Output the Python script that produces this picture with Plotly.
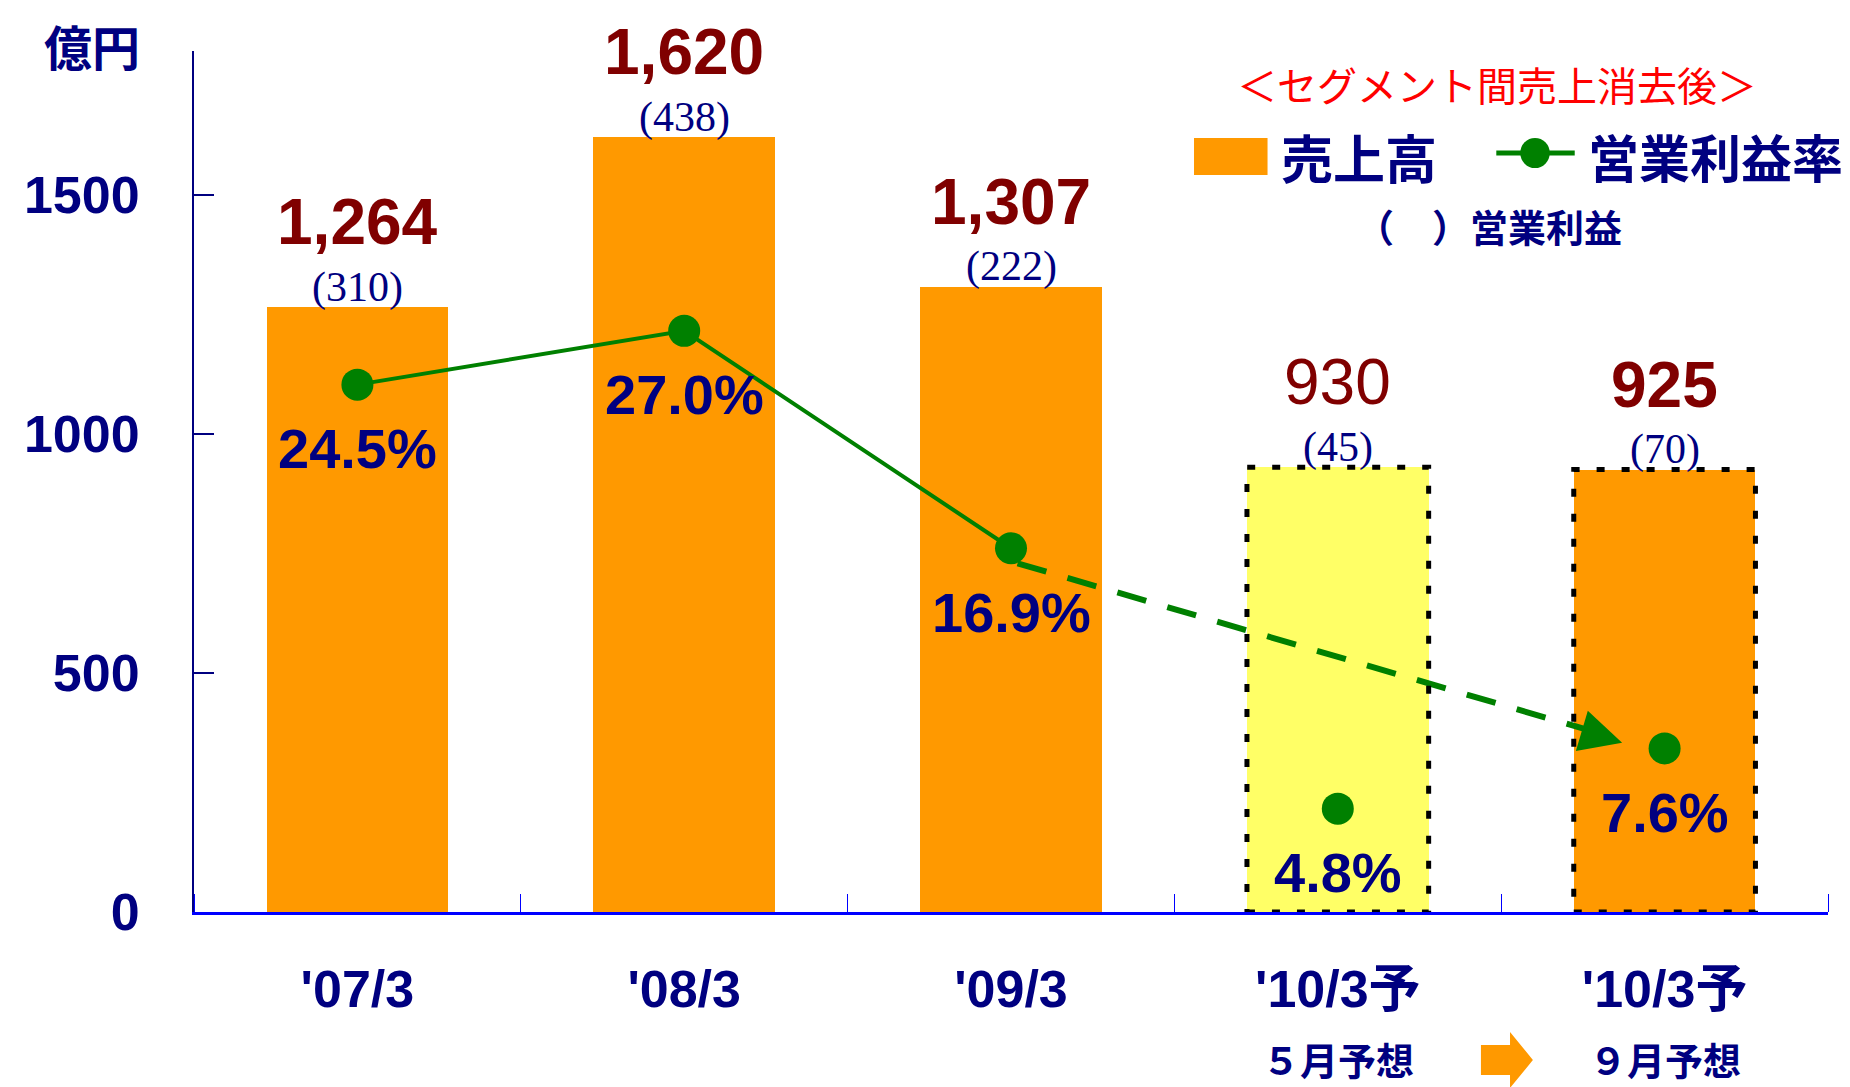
import plotly.graph_objects as go

# data
periods = ["'07/3", "'08/3", "'09/3", "'10/3予", "'10/3予"]
sales = [1264, 1620, 1307, 930, 925]          # 売上高 (億円)
op_profit = [310, 438, 222, 45, 70]            # 営業利益 (億円)
op_margin = [24.5, 27.0, 16.9, 4.8, 7.6]       # 営業利益率 (%)
forecast = [False, False, False, True, True]
sales_bold = [True, True, True, False, True]
y_ticks = [0, 500, 1000, 1500]

ORANGE = '#FF9900'
YELLOW = '#FFFF66'
GREEN = '#008000'
NAVY = '#000080'
DARKRED = '#800000'
SANS = "Arial, 'Liberation Sans', 'Noto Sans CJK JP'"
JP = "'Noto Sans CJK JP', Arial"

x = list(range(len(periods)))
bar_w = 0.556
bar_colors = [YELLOW if (f and i == 3) else ORANGE for i, f in enumerate(forecast)]

fig = go.Figure()

fig.add_trace(go.Bar(x=x, y=sales, width=bar_w, marker=dict(color=bar_colors, line=dict(width=0)),
                     showlegend=False, hoverinfo='skip'))

# actual margins: solid line
n_act = forecast.index(True)
fig.add_trace(go.Scatter(x=x[:n_act], y=op_margin[:n_act], yaxis='y2', mode='lines+markers',
                         line=dict(color=GREEN, width=4), marker=dict(size=32, color=GREEN),
                         showlegend=False, hoverinfo='skip'))
# forecast margins: markers only
fig.add_trace(go.Scatter(x=x[n_act:], y=op_margin[n_act:], yaxis='y2', mode='markers',
                         marker=dict(size=32, color=GREEN), showlegend=False, hoverinfo='skip'))

# revision arrow from last actual towards the september forecast
a0 = (x[n_act - 1] + 0.02, op_margin[n_act - 1] - 0.7)
a1 = (x[-1] - 0.13, op_margin[-1] + 0.26)
fig.add_trace(go.Scatter(x=[a0[0], a1[0] - 0.06], y=[a0[1], a1[1] + 0.4], yaxis='y2', mode='lines',
                         line=dict(color=GREEN, width=6, dash='30px,22px'),
                         showlegend=False, hoverinfo='skip'))

annotations = []
annotations.append(dict(x=a1[0], y=a1[1], xref='x', yref='y2', text='', showarrow=True,
                        arrowhead=2, arrowsize=1.4, arrowwidth=6, arrowcolor=GREEN,
                        ax=-27, ay=-8, axref='pixel', ayref='pixel'))

# bar value labels
for i, v in enumerate(sales):
    txt = f"{v:,}"
    if sales_bold[i]:
        txt = f"<b>{txt}</b>"
    annotations.append(dict(x=i, y=v, xref='x', yref='y', text=txt, showarrow=False,
                            xanchor='center', yanchor='middle',
                            yshift=85, font=dict(family=SANS, size=64, color=DARKRED)))
    annotations.append(dict(x=i, y=v, xref='x', yref='y', text=f"({op_profit[i]})", showarrow=False,
                            xanchor='center', yanchor='middle',
                            yshift=20, font=dict(family="'Liberation Serif', serif", size=42, color=NAVY)))

# margin labels
for i, m in enumerate(op_margin):
    annotations.append(dict(x=i, y=m, xref='x', yref='y2', text=f"<b>{m:.1f}%</b>", showarrow=False,
                            xanchor='center', yanchor='middle',
                            yshift=-64, font=dict(family=SANS, size=56, color=NAVY)))

# axis unit
annotations.append(dict(x=-0.0624, y=1.007, xref='paper', yref='paper', text='<b>億円</b>', showarrow=False,
                        xanchor='center', yanchor='middle',
                        font=dict(family=JP, size=48, color=NAVY)))

# legend (manual)
annotations.append(dict(x=0.7977, y=0.9617, xref='paper', yref='paper', text='＜セグメント間売上消去後＞',
                        xanchor='center', yanchor='middle',
                        showarrow=False, font=dict(family=JP, size=40, color='#FF0000')))
annotations.append(dict(x=0.664, y=0.878, xref='paper', yref='paper', text='<b>売上高</b>',
                        xanchor='left', yanchor='middle',
                        showarrow=False, font=dict(family=JP, size=52, color=NAVY)))
annotations.append(dict(x=0.852, y=0.878, xref='paper', yref='paper', text='<b>営業利益率</b>',
                        xanchor='left', yanchor='middle',
                        showarrow=False, font=dict(family=JP, size=51, color=NAVY)))
annotations.append(dict(x=0.710, y=0.797, xref='paper', yref='paper', text='<b>（　）営業利益</b>',
                        xanchor='left', yanchor='middle',
                        showarrow=False, font=dict(family=JP, size=38, color=NAVY)))

# forecast notes below axis
annotations.append(dict(x=3, y=-0.170, xref='x', yref='paper', text='<b>５月予想</b>', showarrow=False,
                        xanchor='center', yanchor='middle',
                        font=dict(family=JP, size=38, color=NAVY)))
annotations.append(dict(x=4, y=-0.170, xref='x', yref='paper', text='<b>９月予想</b>', showarrow=False,
                        xanchor='center', yanchor='middle',
                        font=dict(family=JP, size=38, color=NAVY)))

shapes = []
# dotted outlines for forecast bars
for i, f in enumerate(forecast):
    if f:
        shapes.append(dict(type='rect', xref='x', yref='y', x0=i - bar_w / 2, x1=i + bar_w / 2,
                           y0=0, y1=sales[i], line=dict(color='black', width=5, dash='8px,17px'),
                           fillcolor='rgba(0,0,0,0)', layer='above'))

# legend symbols
shapes.append(dict(type='rect', xref='paper', yref='paper', x0=0.612, x1=0.657, y0=0.856, y1=0.899,
                   fillcolor=ORANGE, line=dict(width=0)))
shapes.append(dict(type='line', xref='paper', yref='paper', x0=0.797, x1=0.845, y0=0.8815, y1=0.8815,
                   line=dict(color=GREEN, width=5)))
shapes.append(dict(type='circle', xref='paper', yref='paper', x0=0.8117, x1=0.8297, y0=0.864, y1=0.899,
                   fillcolor=GREEN, line=dict(width=0)))

# orange block arrow between 5月予想 and 9月予想
shapes.append(dict(type='path', xref='x', yref='paper',
                   path='M 3.438 -0.1545 L 3.527 -0.1545 L 3.527 -0.1394 L 3.597 -0.1719 '
                        'L 3.527 -0.2044 L 3.527 -0.1893 L 3.438 -0.1893 Z',
                   fillcolor=ORANGE, line=dict(width=0)))

# the page body adds an 8px margin, so the figure is 8px smaller and margins shifted
fig.update_layout(
    width=1842, height=1079,
    margin=dict(l=186, r=22, t=43, b=175),
    plot_bgcolor='white', paper_bgcolor='white',
    showlegend=False,
    bargap=0,
    annotations=annotations,
    shapes=shapes,
    xaxis=dict(range=[-0.5, 4.5], tickvals=x, ticktext=periods, ticks='', showgrid=False, zeroline=False,
               showline=True, linecolor='#0000FF', linewidth=3,
               tickfont=dict(family=SANS, size=52, color=NAVY, weight='bold'), ticklabelstandoff=30,
               minor=dict(tickvals=[i - 0.5 for i in range(len(periods) + 1)], ticks='inside',
                          ticklen=18, tickcolor='#0000FF', tickwidth=1)),
    yaxis=dict(range=[0, 1800], tickvals=y_ticks, ticks='inside', ticklen=20, tickcolor=NAVY, tickwidth=2,
               showgrid=False, zeroline=False, showline=True, linecolor=NAVY, linewidth=2,
               tickfont=dict(family=SANS, size=52, color=NAVY, weight='bold'), ticklabelstandoff=42),
    yaxis2=dict(range=[0, 40], overlaying='y', side='right', visible=False, showgrid=False),
)

fig.write_html("out.html")
